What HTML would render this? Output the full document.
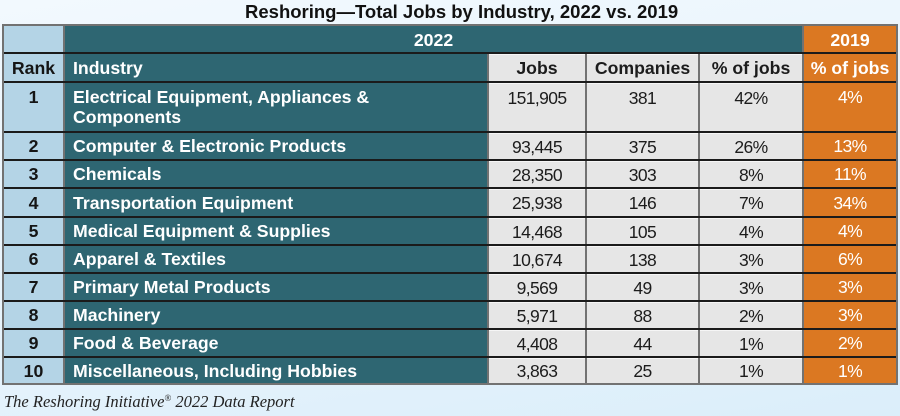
<!DOCTYPE html>
<html><head><meta charset="utf-8">
<style>
html,body{margin:0;padding:0;}
body{width:900px;height:416px;overflow:hidden;position:relative;
background:linear-gradient(170deg,#f2f9fe 0%,#e6f3fc 60%,#dbeefa 100%);
font-family:"Liberation Sans",Arial,sans-serif;}
.a{position:absolute;}
.c{position:absolute;display:flex;align-items:center;justify-content:center;line-height:20px;white-space:nowrap;box-sizing:border-box;}
.rk{background:#b4d4e6;color:#151515;font-weight:bold;font-size:17.7px;}
.tl{background:#2e6672;color:#fff;font-weight:bold;font-size:17.7px;justify-content:flex-start;padding-left:8px;}
.gy{background:#e6e6e6;color:#1c1c1c;font-size:17.5px;letter-spacing:-0.6px;border-top:1px solid #f6f6f6;}
.gh{background:#e6e6e6;color:#1c1c1c;font-weight:bold;font-size:17.7px;border-top:1px solid #f6f6f6;}
.or{background:#db7822;color:#fff;font-size:17.5px;letter-spacing:-0.6px;}
.oh{background:#db7822;color:#fff;font-weight:bold;font-size:17.7px;}
.top{align-items:flex-start;padding-top:4px;}
.ln{position:absolute;left:4px;width:892px;height:2px;background:#1b1b1b;}
</style></head><body>
<div class="a" style="left:245px;top:2.7px;font-size:18.5px;line-height:18.5px;font-weight:bold;color:#111;white-space:nowrap;">Reshoring—Total Jobs by Industry, 2022 vs. 2019</div>

<div class="a" style="left:2px;top:24px;width:896px;height:361px;background:#727272;"></div>

<div class="ln" style="top:52px"></div>
<div class="ln" style="top:81px"></div>
<div class="ln" style="top:131px"></div>
<div class="ln" style="top:159px"></div>
<div class="ln" style="top:187px"></div>
<div class="ln" style="top:216px"></div>
<div class="ln" style="top:244px"></div>
<div class="ln" style="top:272px"></div>
<div class="ln" style="top:300px"></div>
<div class="ln" style="top:328px"></div>
<div class="ln" style="top:356px"></div>

<div class="c rk" style="left:4px;top:26px;width:59px;height:26px;"></div>
<div class="c oh" style="left:65px;top:26px;width:737px;height:26px;background:#2e6672;padding-top:2px;">2022</div>
<div class="c oh" style="left:804px;top:26px;width:92px;height:26px;padding-top:2px;">2019</div>

<div class="c rk" style="left:4px;top:54px;width:59px;height:27px;">Rank</div>
<div class="c tl" style="left:65px;top:54px;width:422px;height:27px;">Industry</div>
<div class="c gh" style="left:489px;top:54px;width:96px;height:27px;">Jobs</div>
<div class="c gh" style="left:587px;top:54px;width:111px;height:27px;">Companies</div>
<div class="c gh" style="left:700px;top:54px;width:102px;height:27px;">% of jobs</div>
<div class="c oh" style="left:804px;top:54px;width:92px;height:27px;">% of jobs</div>

<div class="c rk top" style="left:4px;top:83px;width:59px;height:48px;">1</div>
<div class="c tl top" style="left:65px;top:83px;width:422px;height:48px;white-space:normal;display:block;">Electrical Equipment, Appliances &amp;<br>Components</div>
<div class="c gy top" style="left:489px;top:83px;width:96px;height:48px;">151,905</div>
<div class="c gy top" style="left:587px;top:83px;width:111px;height:48px;">381</div>
<div class="c gy top" style="left:700px;top:83px;width:102px;height:48px;">42%</div>
<div class="c or top" style="left:804px;top:83px;width:92px;height:48px;">4%</div>

<div class="c rk" style="left:4px;top:133px;width:59px;height:26px;">2</div>
<div class="c tl" style="left:65px;top:133px;width:422px;height:26px;">Computer &amp; Electronic Products</div>
<div class="c gy" style="left:489px;top:133px;width:96px;height:26px;">93,445</div>
<div class="c gy" style="left:587px;top:133px;width:111px;height:26px;">375</div>
<div class="c gy" style="left:700px;top:133px;width:102px;height:26px;">26%</div>
<div class="c or" style="left:804px;top:133px;width:92px;height:26px;">13%</div>

<div class="c rk" style="left:4px;top:161px;width:59px;height:26px;">3</div>
<div class="c tl" style="left:65px;top:161px;width:422px;height:26px;">Chemicals</div>
<div class="c gy" style="left:489px;top:161px;width:96px;height:26px;">28,350</div>
<div class="c gy" style="left:587px;top:161px;width:111px;height:26px;">303</div>
<div class="c gy" style="left:700px;top:161px;width:102px;height:26px;">8%</div>
<div class="c or" style="left:804px;top:161px;width:92px;height:26px;">11%</div>

<div class="c rk" style="left:4px;top:189px;width:59px;height:27px;">4</div>
<div class="c tl" style="left:65px;top:189px;width:422px;height:27px;">Transportation Equipment</div>
<div class="c gy" style="left:489px;top:189px;width:96px;height:27px;">25,938</div>
<div class="c gy" style="left:587px;top:189px;width:111px;height:27px;">146</div>
<div class="c gy" style="left:700px;top:189px;width:102px;height:27px;">7%</div>
<div class="c or" style="left:804px;top:189px;width:92px;height:27px;">34%</div>

<div class="c rk" style="left:4px;top:218px;width:59px;height:26px;">5</div>
<div class="c tl" style="left:65px;top:218px;width:422px;height:26px;">Medical Equipment &amp; Supplies</div>
<div class="c gy" style="left:489px;top:218px;width:96px;height:26px;">14,468</div>
<div class="c gy" style="left:587px;top:218px;width:111px;height:26px;">105</div>
<div class="c gy" style="left:700px;top:218px;width:102px;height:26px;">4%</div>
<div class="c or" style="left:804px;top:218px;width:92px;height:26px;">4%</div>

<div class="c rk" style="left:4px;top:246px;width:59px;height:26px;">6</div>
<div class="c tl" style="left:65px;top:246px;width:422px;height:26px;">Apparel &amp; Textiles</div>
<div class="c gy" style="left:489px;top:246px;width:96px;height:26px;">10,674</div>
<div class="c gy" style="left:587px;top:246px;width:111px;height:26px;">138</div>
<div class="c gy" style="left:700px;top:246px;width:102px;height:26px;">3%</div>
<div class="c or" style="left:804px;top:246px;width:92px;height:26px;">6%</div>

<div class="c rk" style="left:4px;top:274px;width:59px;height:26px;">7</div>
<div class="c tl" style="left:65px;top:274px;width:422px;height:26px;">Primary Metal Products</div>
<div class="c gy" style="left:489px;top:274px;width:96px;height:26px;">9,569</div>
<div class="c gy" style="left:587px;top:274px;width:111px;height:26px;">49</div>
<div class="c gy" style="left:700px;top:274px;width:102px;height:26px;">3%</div>
<div class="c or" style="left:804px;top:274px;width:92px;height:26px;">3%</div>

<div class="c rk" style="left:4px;top:302px;width:59px;height:26px;">8</div>
<div class="c tl" style="left:65px;top:302px;width:422px;height:26px;">Machinery</div>
<div class="c gy" style="left:489px;top:302px;width:96px;height:26px;">5,971</div>
<div class="c gy" style="left:587px;top:302px;width:111px;height:26px;">88</div>
<div class="c gy" style="left:700px;top:302px;width:102px;height:26px;">2%</div>
<div class="c or" style="left:804px;top:302px;width:92px;height:26px;">3%</div>

<div class="c rk" style="left:4px;top:330px;width:59px;height:26px;">9</div>
<div class="c tl" style="left:65px;top:330px;width:422px;height:26px;">Food &amp; Beverage</div>
<div class="c gy" style="left:489px;top:330px;width:96px;height:26px;">4,408</div>
<div class="c gy" style="left:587px;top:330px;width:111px;height:26px;">44</div>
<div class="c gy" style="left:700px;top:330px;width:102px;height:26px;">1%</div>
<div class="c or" style="left:804px;top:330px;width:92px;height:26px;">2%</div>

<div class="c rk" style="left:4px;top:358px;width:59px;height:25px;">10</div>
<div class="c tl" style="left:65px;top:358px;width:422px;height:25px;">Miscellaneous, Including Hobbies</div>
<div class="c gy" style="left:489px;top:358px;width:96px;height:25px;">3,863</div>
<div class="c gy" style="left:587px;top:358px;width:111px;height:25px;">25</div>
<div class="c gy" style="left:700px;top:358px;width:102px;height:25px;">1%</div>
<div class="c or" style="left:804px;top:358px;width:92px;height:25px;">1%</div>

<div class="a" style="left:4px;top:393.5px;font-family:'Liberation Serif','Times New Roman',serif;font-style:italic;font-size:16.5px;line-height:16.5px;color:#222;white-space:nowrap;">The Reshoring Initiative<sup style="font-size:9px;line-height:0;vertical-align:6px;">®</sup> 2022 Data Report</div>
</body></html>
